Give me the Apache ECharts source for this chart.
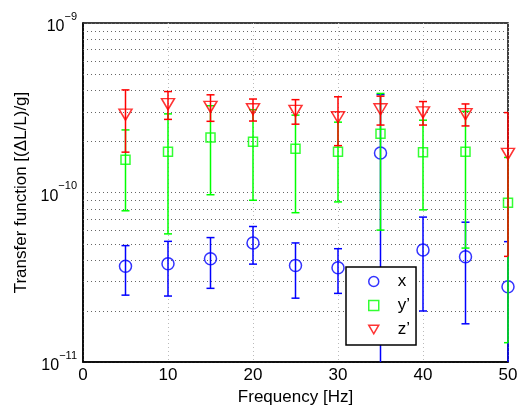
<!DOCTYPE html>
<html>
<head>
<meta charset="utf-8">
<script src="https://cdn.jsdelivr.net/npm/echarts@6/dist/echarts.min.js"></script>
<style>
  html, body { margin: 0; padding: 0; background: #fff; }
  #chart { width: 521px; height: 406px; }
</style>
</head>
<body>
<div id="chart"></div>
<script>
// data
var freq = [5, 10, 15, 20, 25, 30, 35, 40, 45, 50];
var xVal = [3.67e-11, 3.80e-11, 4.07e-11, 5.04e-11, 3.71e-11, 3.60e-11, 1.71e-10, 4.58e-11, 4.18e-11, 2.78e-11];
var xErr = [1.19e-11, 1.35e-11, 1.35e-11, 1.26e-11, 1.33e-11, 1.06e-11, 2.07e-10, 2.58e-11, 2.50e-11, 2.35e-11];
var yVal = [1.56e-10, 1.74e-10, 2.11e-10, 1.99e-10, 1.81e-10, 1.74e-10, 2.22e-10, 1.73e-10, 1.74e-10, 8.70e-11];
var yErr = [7.8e-11, 1.17e-10, 1.14e-10, 1.09e-10, 1.05e-10, 8.6e-11, 1.62e-10, 9.4e-11, 1.27e-10, 7.4e-11];
var zVal = [2.88e-10, 3.32e-10, 3.20e-10, 3.10e-10, 3.03e-10, 2.78e-10, 3.10e-10, 2.97e-10, 2.90e-10, 1.69e-10];
var zErr = [1.15e-10, 6.2e-11, 5.7e-11, 4.6e-11, 5.0e-11, 8.9e-11, 6.0e-11, 4.7e-11, 4.3e-11, 1.27e-10];
var yMinorGrid = [2e-11, 3e-11, 4e-11, 5e-11, 6e-11, 7e-11, 8e-11, 9e-11,
                  2e-10, 3e-10, 4e-10, 5e-10, 6e-10, 7e-10, 8e-10, 9e-10];

var font = 'Liberation Sans, Arial, sans-serif';

function points(vals) {
  return freq.map(function (f, i) { return [f, vals[i]]; });
}
function bars(vals, errs) {
  return freq.map(function (f, i) { return [f, vals[i] - errs[i], vals[i] + errs[i]]; });
}

// vertical error bar with caps, cut at the bottom of the plot
function errRender(color) {
  return function (params, api) {
    var x = api.value(0), lo = api.value(1), hi = api.value(2);
    var cs = params.coordSys;
    var bottom = cs.y + cs.height;
    var right = cs.x + cs.width;
    var pHi = api.coord([x, hi]);
    var px = pHi[0], yHi = pHi[1];
    var cut = !(lo > 0);
    var yLo = cut ? bottom : api.coord([x, lo])[1];
    if (yLo > bottom) { yLo = bottom; cut = true; }
    var st = { stroke: color, lineWidth: 1.5 };
    var w = 4;
    var xr = Math.min(px + w, right);
    var kids = [
      { type: 'line', shape: { x1: px, y1: yHi, x2: px, y2: yLo }, style: st },
      { type: 'line', shape: { x1: px - w, y1: yHi, x2: xr, y2: yHi }, style: st }
    ];
    if (!cut) {
      kids.push({ type: 'line', shape: { x1: px - w, y1: yLo, x2: xr, y2: yLo }, style: st });
    }
    return { type: 'group', children: kids };
  };
}

// dotted log grid lines between the decades
function gridRender(params, api) {
  var cs = params.coordSys;
  var y = Math.round(api.coord([0, api.value(0)])[1]) + 0.5;
  return {
    type: 'line',
    shape: { x1: cs.x, y1: y, x2: cs.x + cs.width, y2: y },
    style: { stroke: '#666', lineWidth: 1, lineDash: [1, 3] }
  };
}

var myChart = echarts.init(document.getElementById('chart'));
var option = {
  animation: false,
  textStyle: { fontFamily: font },
  grid: {
    left: 83, right: 13, top: 23, bottom: 44,
    outerBoundsMode: 'none',
    containLabel: false,
    show: true, borderColor: '#000', borderWidth: 1.5, backgroundColor: 'transparent'
  },
  legend: {
    orient: 'vertical',
    left: 346, top: 267,
    padding: [6, 6, 7, 22],
    itemGap: 7,
    itemWidth: 10, itemHeight: 10,
    backgroundColor: '#fff',
    borderColor: '#000', borderWidth: 1.5, borderRadius: 0,
    textStyle: { fontSize: 17, color: '#000', fontFamily: font, padding: [0, 0, 0, 14] },
    data: [
      { name: 'x', icon: 'circle', itemStyle: { color: 'transparent', borderColor: '#0000ff', borderWidth: 1.5 } },
      { name: 'y\u2019', icon: 'path://M0,0L10,0L10,10L0,10Z', itemStyle: { color: 'transparent', borderColor: '#00ff00', borderWidth: 1.5 } },
      { name: 'z\u2019', icon: 'path://M0,0L10,0L5,8.66Z', itemStyle: { color: 'transparent', borderColor: '#ff0000', borderWidth: 1.5 } }
    ]
  },
  xAxis: {
    type: 'value',
    min: 0, max: 50, interval: 10,
    name: 'Frequency [Hz]',
    nameLocation: 'middle', nameGap: 25,
    nameTextStyle: { fontSize: 17, color: '#000', fontFamily: font },
    axisLine: { lineStyle: { color: '#000', width: 1.5 } },
    axisTick: { show: false },
    axisLabel: { fontSize: 17, color: '#000', margin: 5, fontFamily: font },
    splitLine: { show: true, lineStyle: { color: '#bbb', type: [1, 3], width: 1 } }
  },
  yAxis: {
    type: 'log',
    logBase: 10,
    min: 1e-11, max: 1e-9,
    name: 'Transfer function [(\u0394L/L)/g]',
    nameLocation: 'middle', nameGap: 53,
    nameTextStyle: { fontSize: 17, color: '#000', fontFamily: font },
    axisLine: { lineStyle: { color: '#000', width: 1.5 } },
    axisTick: { show: false },
    axisLabel: {
      margin: 6,
      formatter: function (v) {
        var e = Math.round(Math.log10(v));
        return '{b|10}{s|\u2212' + Math.abs(e) + '}';
      },
      rich: {
        b: { fontSize: 16, color: '#000', fontFamily: font, lineHeight: 24, verticalAlign: 'bottom' },
        s: { fontSize: 11, color: '#000', fontFamily: font, lineHeight: 12, verticalAlign: 'top' }
      }
    },
    splitLine: { show: true, lineStyle: { color: '#666', type: [1, 3], width: 1 } }
  },
  series: [
    { type: 'custom', renderItem: gridRender, data: yMinorGrid.map(function (v) { return [v]; }),
      encode: { y: 0 }, silent: true, z: 1 },
    { type: 'custom', renderItem: errRender('#0000ff'), data: bars(xVal, xErr), encode: { x: 0, y: 2 }, z: 3 },
    { name: 'x', type: 'scatter', symbol: 'circle', symbolSize: 12, data: points(xVal), z: 4,
      itemStyle: { color: 'transparent', borderColor: '#0000ff', borderWidth: 1.5 } },
    { type: 'custom', renderItem: errRender('#00ff00'), data: bars(yVal, yErr), encode: { x: 0, y: 2 }, z: 5 },
    { name: 'y\u2019', type: 'scatter', symbol: 'rect', symbolSize: 9, data: points(yVal), z: 6,
      itemStyle: { color: 'transparent', borderColor: '#00ff00', borderWidth: 1.5 } },
    { type: 'custom', renderItem: errRender('#ff0000'), data: bars(zVal, zErr), encode: { x: 0, y: 2 }, z: 7 },
    { name: 'z\u2019', type: 'scatter', symbol: 'triangle', symbolRotate: 180, symbolSize: [13, 11], data: points(zVal), z: 8,
      itemStyle: { color: 'transparent', borderColor: '#ff0000', borderWidth: 1.5 } }
  ]
};
myChart.setOption(option);
</script>
</body>
</html>
